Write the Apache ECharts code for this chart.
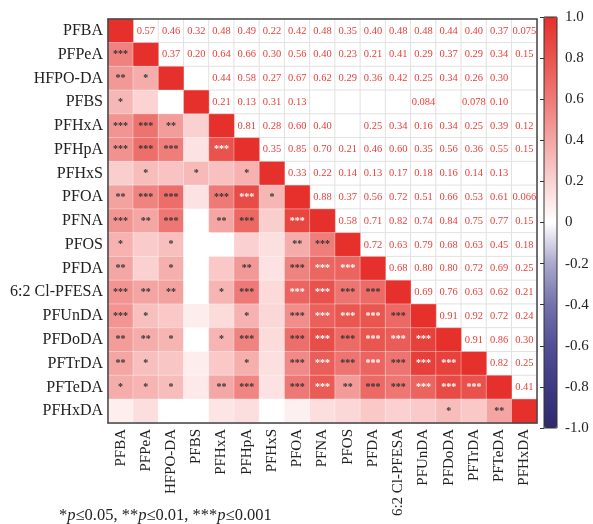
<!DOCTYPE html>
<html>
<head>
<meta charset="utf-8">
<script src="https://cdn.jsdelivr.net/npm/echarts@6/dist/echarts.min.js"></script>
<style>html,body{margin:0;padding:0;background:#fff;}#c{width:593px;height:524px;}</style>
</head>
<body>
<div id="c"></div>
<script>
// Variables (row / column order)
const vars = ['PFBA','PFPeA','HFPO-DA','PFBS','PFHxA','PFHpA','PFHxS','PFOA','PFNA','PFOS','PFDA','6:2 Cl-PFESA','PFUnDA','PFDoDA','PFTrDA','PFTeDA','PFHxDA'];

// Correlation coefficients: each row lists the values against the columns that follow it (null = blank)
const rPFBA   = [0.57,0.46,0.32,0.48,0.49,0.22,0.42,0.48,0.35,0.40,0.48,0.48,0.44,0.40,0.37,0.075];
const rPFPeA  = [0.37,0.20,0.64,0.66,0.30,0.56,0.40,0.23,0.21,0.41,0.29,0.37,0.29,0.34,0.15];
const rHFPODA = [null,0.44,0.58,0.27,0.67,0.62,0.29,0.36,0.42,0.25,0.34,0.26,0.30,null];
const rPFBS   = [0.21,0.13,0.31,0.13,null,null,null,null,0.084,null,0.078,0.10,null];
const rPFHxA  = [0.81,0.28,0.60,0.40,null,0.25,0.34,0.16,0.34,0.25,0.39,0.12];
const rPFHpA  = [0.35,0.85,0.70,0.21,0.46,0.60,0.35,0.56,0.36,0.55,0.15];
const rPFHxS  = [0.33,0.22,0.14,0.13,0.17,0.18,0.16,0.14,0.13,null];
const rPFOA   = [0.88,0.37,0.56,0.72,0.51,0.66,0.53,0.61,0.066];
const rPFNA   = [0.58,0.71,0.82,0.74,0.84,0.75,0.77,0.15];
const rPFOS   = [0.72,0.63,0.79,0.68,0.63,0.45,0.18];
const rPFDA   = [0.68,0.80,0.80,0.72,0.69,0.25];
const rCl     = [0.69,0.76,0.63,0.62,0.21];
const rPFUnDA = [0.91,0.92,0.72,0.24];
const rPFDoDA = [0.91,0.86,0.30];
const rPFTrDA = [0.82,0.25];
const rPFTeDA = [0.41];
const upperRows = [rPFBA,rPFPeA,rHFPODA,rPFBS,rPFHxA,rPFHpA,rPFHxS,rPFOA,rPFNA,rPFOS,rPFDA,rCl,rPFUnDA,rPFDoDA,rPFTrDA,rPFTeDA,[]];

// Significance marks: each row lists the marks against the columns before it
const sPFPeA  = ['***'];
const sHFPODA = ['**','*'];
const sPFBS   = ['*','',''];
const sPFHxA  = ['***','***','**',''];
const sPFHpA  = ['***','***','***','','***'];
const sPFHxS  = ['','*','','*','','*'];
const sPFOA   = ['**','***','***','','***','***','*'];
const sPFNA   = ['***','**','***','','**','***','','***'];
const sPFOS   = ['*','','*','','','','','**','***'];
const sPFDA   = ['**','','*','','','**','','***','***','***'];
const sCl     = ['***','**','**','','*','***','','***','***','***','***'];
const sPFUnDA = ['***','*','','','','*','','***','***','***','***','***'];
const sPFDoDA = ['**','**','*','','*','***','','***','***','***','***','***','***'];
const sPFTrDA = ['**','*','','','','*','','***','***','***','***','***','***','***'];
const sPFTeDA = ['*','*','*','','**','***','','***','***','**','***','***','***','***','***'];
const sPFHxDA = ['','','','','','','','','','','','','','*','','**'];
const starRows = [[],sPFPeA,sHFPODA,sPFBS,sPFHxA,sPFHpA,sPFHxS,sPFOA,sPFNA,sPFOS,sPFDA,sCl,sPFUnDA,sPFDoDA,sPFTrDA,sPFTeDA,sPFHxDA];

// Colour-bar tick range
const barMin = -1, barMax = 1, barStep = 0.2;

const n = vars.length;
const FONT = 'Liberation Serif';
function fmt(v){ return v < 0.1 ? String(v) : v.toFixed(2); }

const bgData = [];
const colorData = [];
for (let i = 0; i < n; i++) {
  for (let j = 0; j < n; j++) {
    if (j > i) {
      const v = upperRows[i][j - i - 1];
      bgData.push([j, i, 0, v == null ? '' : fmt(v)]);
    } else {
      bgData.push([j, i, 0, '']);
      if (i === j) {
        colorData.push({value: [j, i, 1, '']});
      } else {
        const v = upperRows[j][i - j - 1];
        const s = starRows[i][j] || '';
        colorData.push({
          value: [j, i, v == null ? 0 : v, s],
          label: {color: (v != null && v > 0.705) ? '#ffffff' : '#333333'}
        });
      }
    }
  }
}

const chart = echarts.init(document.getElementById('c'), null, {renderer: 'canvas'});
chart.setOption({
  backgroundColor: '#ffffff',
  animation: false,
  title: {
    text: '*{i|p}≤0.05, **{i|p}≤0.01, ***{i|p}≤0.001',
    left: 54, top: 502,
    textStyle: {
      fontFamily: FONT, fontSize: 16.5, fontWeight: 'normal', color: '#222',
      rich: {i: {fontFamily: FONT, fontSize: 16.5, fontStyle: 'italic', color: '#222'}}
    }
  },
  grid: [
    {left: 108, top: 19, width: 429, height: 404, show: true, borderColor: '#444', borderWidth: 1.5, backgroundColor: 'transparent', z: 10},
    {left: 544, top: 17, width: 13, height: 411, show: true, borderColor: '#333', borderWidth: 1, backgroundColor: 'transparent', z: 10}
  ],
  xAxis: [
    {type: 'category', gridIndex: 0, data: vars, position: 'bottom',
     axisLine: {show: true, lineStyle: {color: '#444', width: 1.5}}, axisTick: {show: false},
     splitLine: {show: false},
     axisLabel: {rotate: 90, fontFamily: FONT, fontSize: 15, color: '#222', margin: 6, interval: 0}},
    {type: 'value', gridIndex: 1, show: false, min: 0, max: 1}
  ],
  yAxis: [
    {type: 'category', gridIndex: 0, data: vars, inverse: true,
     axisLine: {show: true, lineStyle: {color: '#444', width: 1.5}}, axisTick: {show: false},
     splitLine: {show: false},
     axisLabel: {fontFamily: FONT, fontSize: 16, color: '#222', margin: 5, interval: 0}},
    {type: 'value', gridIndex: 1, min: barMin, max: barMax, interval: barStep, position: 'right',
     axisLine: {show: false}, splitLine: {show: false},
     axisTick: {show: true, inside: true, length: 4, lineStyle: {color: '#333'}},
     axisLabel: {fontFamily: FONT, fontSize: 15, color: '#222', margin: 8,
       formatter: v => Math.abs(v) < 1e-9 ? '0' : v.toFixed(1)}}
  ],
  visualMap: {
    type: 'continuous', min: barMin, max: barMax, seriesIndex: 1, dimension: 2,
    left: 544, top: 17, itemWidth: 13, itemHeight: 411, padding: 0,
    calculable: false, text: null, showLabel: false, hoverLink: false,
    inRange: {color: ['#2e2a6b','#3d3982','#524f97','#7471ab','#aaa8cc','#ffffff','#fad3d2','#f4a6a4','#ee7a77','#e9554f','#e5302c']}
  },
  series: [
    {
      type: 'heatmap', xAxisIndex: 0, yAxisIndex: 0, data: bgData, z: 1,
      itemStyle: {color: '#ffffff', borderColor: '#e2e2e2', borderWidth: 1},
      label: {show: true, formatter: p => p.data[3], color: '#e8403a', fontFamily: FONT, fontSize: 10.5},
      emphasis: {disabled: true}
    },
    {
      type: 'heatmap', xAxisIndex: 0, yAxisIndex: 0, data: colorData, z: 2,
      itemStyle: {borderColor: 'rgba(255,255,255,0.35)', borderWidth: 1},
      label: {show: true, formatter: p => p.data.value[3], fontFamily: FONT, fontSize: 10, fontWeight: 'bold', padding: [5,0,0,0]},
      emphasis: {disabled: true}
    }
  ]
});
</script>
</body>
</html>
